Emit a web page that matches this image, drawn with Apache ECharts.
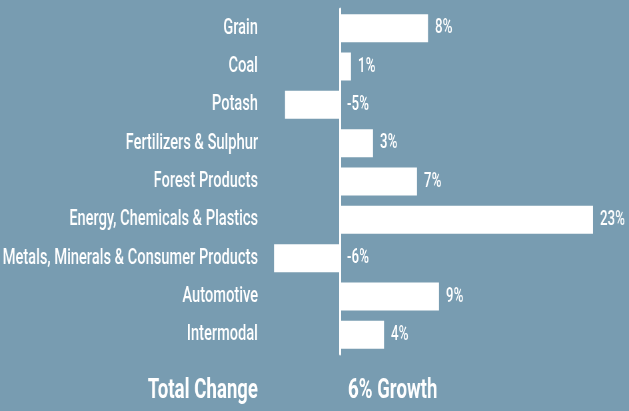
<!DOCTYPE html>
<html>
<head>
<meta charset="utf-8">
<script src="https://cdn.jsdelivr.net/npm/echarts@6/dist/echarts.min.js"></script>
<style>
  html, body { margin: 0; padding: 0; background: #789cb1; overflow: hidden; width: 629px; height: 411px; }
  /* The chart is laid out wide and squeezed horizontally to get a condensed typeface look */
  #chart { width: 944px; height: 411px; transform: scaleX(0.66631); transform-origin: 0 0; }
</style>
</head>
<body>
<div id="chart"></div>
<script>
// Freight segments, top to bottom
const categories = [
  'Grain', 'Coal', 'Potash', 'Fertilizers & Sulphur', 'Forest Products',
  'Energy, Chemicals & Plastics', 'Metals, Minerals & Consumer Products',
  'Automotive', 'Intermodal'
];
// Year-over-year change, percent
const changes = [8, 1, -5, 3, 7, 23, -6, 9, 4];
const totalLabel = 'Total Change';
const totalValue = '6% Growth';

const K = 944 / 629;               // horizontal stretch compensated by the CSS squeeze
const FONT = 'Roboto, "Liberation Sans", sans-serif';
const WHITE = '#ffffff';

const chart = echarts.init(document.getElementById('chart'), null, { renderer: 'canvas' });

chart.setOption({
  backgroundColor: '#789cb1',
  animation: false,
  grid: { left: 274 * K, right: 36 * K, top: 9, bottom: 57, containLabel: false, outerBoundsMode: 'none' },
  xAxis: {
    type: 'value',
    min: -6,
    max: 23,
    interval: 1,
    axisLine: { show: false },
    axisTick: { show: false },
    axisLabel: { show: false },
    splitLine: { show: false }
  },
  yAxis: {
    type: 'category',
    data: categories,
    inverse: true,
    axisLine: { show: true, onZero: true, lineStyle: { color: WHITE, width: 2 * K } },
    axisTick: { show: false },
    axisLabel: {
      color: WHITE,
      fontFamily: FONT,
      fontSize: 22,
      fontWeight: 500,
      margin: 16 * K,
      align: 'right'
    },
    splitLine: { show: false }
  },
  series: [{
    type: 'bar',
    data: changes,
    barCategoryGap: '27%',
    itemStyle: { color: WHITE },
    label: {
      show: true,
      position: 'right',
      distance: 7 * K,
      color: WHITE,
      fontFamily: FONT,
      fontSize: 20,
      fontWeight: 500,
      formatter: p => p.value + '%'
    }
  }],
  graphic: [
    {
      type: 'text',
      right: 944 - 258 * K,
      top: 377,
      style: {
        text: totalLabel,
        fill: WHITE,
        font: 'bold 28px ' + FONT,
        textAlign: 'right'
      }
    },
    {
      type: 'text',
      left: 348 * K,
      top: 377,
      style: {
        text: totalValue,
        fill: WHITE,
        font: 'bold 28px ' + FONT
      }
    }
  ]
});
</script>
</body>
</html>
